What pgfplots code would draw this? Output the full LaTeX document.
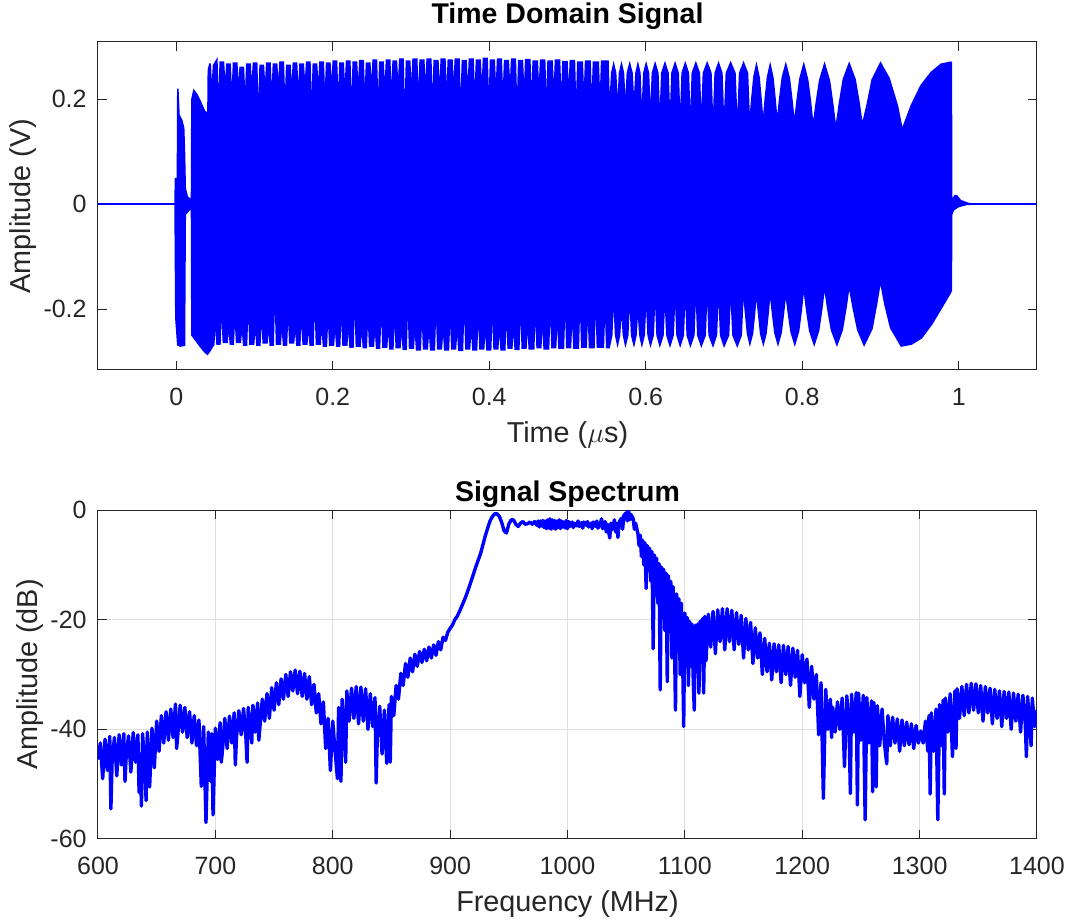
\documentclass[border=0pt]{standalone}
\usepackage{fontspec}
\setmainfont{Liberation Sans}
\usepackage{pgfplots}
\pgfplotsset{compat=1.18}
\definecolor{axc}{RGB}{38,38,38}
\definecolor{gridc}{RGB}{223,223,223}
\pgfplotsset{mystyle/.style={
 scale only axis, width=469.5pt,
 axis line style={axc, line width=0.5pt},
 every tick/.style={axc, line width=0.5pt},
 major tick length=4.7pt,
 tick align=inside,
 xtick pos=both, ytick pos=both,
 scaled ticks=false,
 tick label style={font=\fontsize{12.5}{14}\selectfont, text=axc},
 /pgf/number format/assume math mode=true,
 /pgf/number format/1000 sep={},
 xticklabel style={anchor=base, yshift=-18pt, inner sep=0pt},
 yticklabel style={anchor=east, xshift=-5.5pt, inner sep=0pt},
 label style={font=\fontsize{14.4}{16}\selectfont, text=axc},
 title style={font=\bfseries\fontsize{14.25}{16}\selectfont, at={(0.5,1)}, anchor=base},
 xlabel style={at={(axis description cs:0.5,0)}, anchor=base, yshift=-36.5pt},
}}
\begin{document}
\begin{tikzpicture}
\useasboundingbox (-49pt,-40.5pt) rectangle (487.5pt,419.5pt);
% ---------------- Top: time domain ----------------
\begin{axis}[mystyle, at={(0,234.5pt)}, anchor=south west, height=164pt,
 xmin=-0.1, xmax=1.1, ymin=-0.316, ymax=0.309,
 xtick={0,0.2,0.4,0.6,0.8,1}, ytick={-0.2,0,0.2},
 title={Time Domain Signal}, title style={yshift=3pt},
 xlabel={Time ($\mu$s)}, ylabel={Amplitude (V)},
 ylabel style={at={(axis description cs:-0.0724,0.5)}, anchor=base}]
\addplot[blue, line width=1pt] coordinates {(-0.1,0) (1.1,0)};
\addplot[fill=blue, draw=none] coordinates {
(-0.0025,0.0) (-0.002,0.05) (0.0005,0.05) (0.001,0.22) (0.003,0.22) (0.0045,0.17) (0.008,0.16) (0.0105,0.145) (0.0115,0.10) (0.0125,0.03) (0.015,0.015) (0.0185,0.01) (0.019,0.20) (0.022,0.22) (0.027,0.21) (0.032,0.195) (0.037,0.178) (0.0395,0.175) (0.040,0.255) (0.042,0.268)
(0.0443,0.268)(0.0455,0.235)(0.0467,0.265)
(0.0528,0.28)(0.054,0.215)(0.0552,0.272)
(0.0613,0.272)(0.0625,0.24)(0.0637,0.268)
(0.0698,0.268)(0.071,0.225)(0.0722,0.27)
(0.0783,0.27)(0.0795,0.235)(0.0807,0.262)
(0.0868,0.262)(0.088,0.22)(0.0892,0.268)
(0.0953,0.268)(0.0965,0.238)(0.0977,0.27)
(0.1038,0.27)(0.105,0.2)(0.1062,0.266)
(0.1123,0.266)(0.1135,0.235)(0.1147,0.27)
(0.1208,0.27)(0.122,0.225)(0.1232,0.268)
(0.1293,0.268)(0.1305,0.24)(0.1317,0.272)
(0.1378,0.272)(0.139,0.215)(0.1402,0.266)
(0.1463,0.266)(0.1475,0.235)(0.1487,0.27)
(0.1548,0.27)(0.156,0.228)(0.1572,0.268)
(0.1633,0.268)(0.1645,0.24)(0.1657,0.272)
(0.1718,0.272)(0.173,0.21)(0.1742,0.268)
(0.1803,0.268)(0.1815,0.236)(0.1827,0.272)
(0.1888,0.272)(0.19,0.225)(0.1912,0.27)
(0.1973,0.27)(0.1985,0.24)(0.1997,0.274)
(0.2058,0.274)(0.207,0.22)(0.2082,0.27)
(0.2143,0.27)(0.2155,0.235)(0.2167,0.274)
(0.2228,0.274)(0.224,0.21)(0.2252,0.272)
(0.2313,0.272)(0.2325,0.238)(0.2337,0.275)
(0.2398,0.275)(0.241,0.225)(0.2422,0.27)
(0.2483,0.27)(0.2495,0.24)(0.2507,0.276)
(0.2568,0.276)(0.258,0.215)(0.2592,0.272)
(0.2653,0.272)(0.2665,0.235)(0.2677,0.276)
(0.2738,0.276)(0.275,0.228)(0.2762,0.274)
(0.2823,0.274)(0.2835,0.24)(0.2847,0.278)
(0.2908,0.278)(0.292,0.2)(0.2932,0.274)
(0.2993,0.274)(0.3005,0.236)(0.3017,0.278)
(0.3083,0.278)(0.3095,0.225)(0.3107,0.276)
(0.3173,0.276)(0.3185,0.238)(0.3197,0.278)
(0.3263,0.278)(0.3275,0.215)(0.3287,0.275)
(0.3353,0.275)(0.3365,0.235)(0.3377,0.278)
(0.3443,0.278)(0.3455,0.228)(0.3467,0.276)
(0.3533,0.276)(0.3545,0.24)(0.3557,0.278)
(0.3623,0.278)(0.3635,0.21)(0.3647,0.275)
(0.3713,0.275)(0.3725,0.236)(0.3737,0.278)
(0.3803,0.278)(0.3815,0.225)(0.3827,0.276)
(0.3893,0.276)(0.3905,0.238)(0.3917,0.279)
(0.3983,0.279)(0.3995,0.218)(0.4007,0.276)
(0.4073,0.276)(0.4085,0.235)(0.4097,0.278)
(0.4163,0.278)(0.4175,0.225)(0.4187,0.275)
(0.4253,0.275)(0.4265,0.238)(0.4277,0.278)
(0.4343,0.278)(0.4355,0.21)(0.4367,0.275)
(0.4433,0.275)(0.4445,0.232)(0.4457,0.277)
(0.4528,0.277)(0.454,0.222)(0.4552,0.274)
(0.4623,0.274)(0.4635,0.235)(0.4647,0.276)
(0.4718,0.276)(0.473,0.215)(0.4742,0.274)
(0.4813,0.274)(0.4825,0.23)(0.4837,0.276)
(0.4908,0.276)(0.492,0.22)(0.4932,0.273)
(0.5003,0.273)(0.5015,0.232)(0.5027,0.275)
(0.5098,0.275)(0.511,0.21)(0.5122,0.272)
(0.5198,0.272)(0.521,0.225)(0.5222,0.274)
(0.5298,0.274)(0.531,0.215)(0.5322,0.272)
(0.5403,0.272)(0.5415,0.22)(0.5427,0.274)
(0.5527,0.274)(0.554,0.207)
(0.5555,0.25)(0.559,0.273)(0.5625,0.25)(0.564,0.205)
(0.5655,0.25)(0.569,0.273)(0.5725,0.25)(0.574,0.205)
(0.5755,0.25)(0.5795,0.273)(0.5835,0.25)(0.585,0.207)
(0.5865,0.25)(0.59,0.273)(0.5935,0.25)(0.595,0.192)
(0.5965,0.25)(0.6005,0.273)(0.6045,0.25)(0.606,0.192)
(0.6075,0.25)(0.612,0.273)(0.6165,0.25)(0.618,0.185)
(0.6195,0.25)(0.6245,0.273)(0.6295,0.25)(0.631,0.185)
(0.6325,0.25)(0.6375,0.273)(0.6425,0.25)(0.644,0.182)
(0.6455,0.25)(0.6505,0.273)(0.6555,0.25)(0.657,0.18)
(0.6585,0.25)(0.664,0.273)(0.6695,0.25)(0.671,0.182)
(0.6727,0.25)(0.6785,0.273)(0.6843,0.25)(0.686,0.175)
(0.6877,0.25)(0.693,0.273)(0.6983,0.25)(0.700,0.175)
(0.702,0.25)(0.7085,0.273)(0.715,0.25)(0.717,0.173)
(0.719,0.25)(0.725,0.273)(0.731,0.25)(0.733,0.173)
(0.7347,0.203)(0.7373,0.243)(0.7415,0.272)(0.7458,0.242)(0.7483,0.201)(0.750,0.170)
(0.7518,0.201)(0.7545,0.241)(0.759,0.272)(0.7635,0.241)(0.7662,0.201)(0.768,0.170)
(0.7702,0.201)(0.7735,0.241)(0.779,0.272)(0.7845,0.240)(0.7878,0.198)(0.790,0.166)
(0.7924,0.197)(0.796,0.239)(0.802,0.272)(0.808,0.236)(0.8116,0.194)(0.814,0.160)
(0.8169,0.193)(0.8213,0.236)(0.8285,0.272)(0.8358,0.235)(0.8401,0.189)(0.843,0.154)
(0.8464,0.191)(0.8515,0.238)(0.86,0.272)(0.8685,0.238)(0.8736,0.193)(0.877,0.158)
(0.882,0.19)(0.8885,0.238)(0.900,0.272)(0.912,0.24)(0.9225,0.188)(0.928,0.147)
(0.9386,0.189)(0.951,0.227)(0.964,0.252)(0.977,0.268)(0.990,0.272)(0.9915,0.271)
(0.992,0.012)(0.995,0.018)(0.998,0.017)(1.003,0.008)(1.012,0.003)(1.02,0.001)
} \closedcycle;
\addplot[fill=blue, draw=none] coordinates {
(-0.0025,0.0) (-0.0015,-0.217) (0.001,-0.269) (0.005,-0.272) (0.0115,-0.27) (0.0125,-0.02) (0.0185,-0.01) (0.019,-0.25) (0.025,-0.262) (0.030,-0.272) (0.036,-0.283) (0.040,-0.288) (0.044,-0.28) (0.048,-0.27)
(0.0488,-0.27)(0.050,-0.24)(0.0512,-0.268)
(0.0568,-0.268)(0.058,-0.22)(0.0592,-0.265)
(0.0658,-0.265)(0.067,-0.245)(0.0682,-0.268)
(0.0738,-0.268)(0.075,-0.23)(0.0762,-0.265)
(0.0828,-0.265)(0.084,-0.245)(0.0852,-0.27)
(0.0908,-0.27)(0.092,-0.215)(0.0932,-0.268)
(0.0998,-0.268)(0.101,-0.245)(0.1022,-0.27)
(0.1078,-0.27)(0.109,-0.23)(0.1102,-0.266)
(0.1168,-0.266)(0.118,-0.245)(0.1192,-0.27)
(0.1248,-0.27)(0.126,-0.2)(0.1272,-0.268)
(0.1338,-0.268)(0.135,-0.245)(0.1362,-0.27)
(0.1418,-0.27)(0.143,-0.225)(0.1442,-0.266)
(0.1508,-0.266)(0.152,-0.245)(0.1532,-0.27)
(0.1588,-0.27)(0.160,-0.23)(0.1612,-0.268)
(0.1678,-0.268)(0.169,-0.245)(0.1702,-0.27)
(0.1758,-0.27)(0.177,-0.21)(0.1782,-0.268)
(0.1848,-0.268)(0.186,-0.245)(0.1872,-0.272)
(0.1928,-0.272)(0.194,-0.23)(0.1952,-0.27)
(0.2018,-0.27)(0.203,-0.245)(0.2042,-0.272)
(0.2098,-0.272)(0.211,-0.225)(0.2122,-0.27)
(0.2188,-0.27)(0.220,-0.245)(0.2212,-0.274)
(0.2268,-0.274)(0.228,-0.21)(0.2292,-0.272)
(0.2358,-0.272)(0.237,-0.248)(0.2382,-0.275)
(0.2438,-0.275)(0.245,-0.23)(0.2462,-0.272)
(0.2528,-0.272)(0.254,-0.248)(0.2552,-0.276)
(0.2608,-0.276)(0.262,-0.22)(0.2632,-0.274)
(0.2698,-0.274)(0.271,-0.248)(0.2722,-0.277)
(0.2778,-0.277)(0.279,-0.23)(0.2802,-0.275)
(0.2868,-0.275)(0.288,-0.25)(0.2892,-0.278)
(0.2948,-0.278)(0.296,-0.215)(0.2972,-0.276)
(0.3038,-0.276)(0.305,-0.25)(0.3062,-0.279)
(0.3128,-0.279)(0.314,-0.232)(0.3152,-0.277)
(0.3218,-0.277)(0.323,-0.25)(0.3242,-0.279)
(0.3308,-0.279)(0.332,-0.22)(0.3332,-0.277)
(0.3398,-0.277)(0.341,-0.25)(0.3422,-0.279)
(0.3488,-0.279)(0.350,-0.232)(0.3512,-0.277)
(0.3578,-0.277)(0.359,-0.25)(0.3602,-0.28)
(0.3668,-0.28)(0.368,-0.215)(0.3692,-0.277)
(0.3758,-0.277)(0.377,-0.25)(0.3782,-0.279)
(0.3848,-0.279)(0.386,-0.23)(0.3872,-0.277)
(0.3938,-0.277)(0.395,-0.25)(0.3962,-0.279)
(0.4028,-0.279)(0.404,-0.225)(0.4052,-0.277)
(0.4118,-0.277)(0.413,-0.25)(0.4142,-0.279)
(0.4208,-0.279)(0.422,-0.23)(0.4232,-0.276)
(0.4298,-0.276)(0.431,-0.248)(0.4322,-0.278)
(0.4388,-0.278)(0.440,-0.22)(0.4412,-0.276)
(0.4478,-0.276)(0.449,-0.245)(0.4502,-0.277)
(0.4578,-0.277)(0.459,-0.225)(0.4602,-0.275)
(0.4668,-0.275)(0.468,-0.24)(0.4692,-0.277)
(0.4768,-0.277)(0.478,-0.22)(0.4792,-0.275)
(0.4858,-0.275)(0.487,-0.235)(0.4882,-0.276)
(0.4958,-0.276)(0.497,-0.215)(0.4982,-0.275)
(0.5048,-0.275)(0.506,-0.23)(0.5072,-0.276)
(0.5148,-0.276)(0.516,-0.21)(0.5172,-0.274)
(0.5248,-0.274)(0.526,-0.225)(0.5272,-0.275)
(0.5348,-0.275)(0.536,-0.21)(0.5372,-0.274)
(0.5468,-0.274)(0.548,-0.218)(0.5492,-0.275)
(0.554,-0.275)(0.5575,-0.25)(0.559,-0.2)
(0.5605,-0.25)(0.564,-0.274)(0.5675,-0.25)(0.569,-0.215)
(0.5705,-0.25)(0.574,-0.274)(0.578,-0.25)(0.5795,-0.2)
(0.581,-0.25)(0.585,-0.274)(0.5885,-0.25)(0.590,-0.215)
(0.5915,-0.25)(0.595,-0.274)(0.599,-0.25)(0.6005,-0.2)
(0.602,-0.25)(0.606,-0.274)(0.6105,-0.25)(0.612,-0.195)
(0.6135,-0.25)(0.618,-0.274)(0.623,-0.25)(0.6245,-0.2)
(0.626,-0.25)(0.631,-0.274)(0.636,-0.25)(0.6375,-0.195)
(0.639,-0.25)(0.644,-0.274)(0.649,-0.25)(0.6505,-0.19)
(0.652,-0.25)(0.657,-0.274)(0.6625,-0.25)(0.664,-0.187)
(0.6655,-0.25)(0.671,-0.274)(0.677,-0.25)(0.6785,-0.187)
(0.680,-0.25)(0.686,-0.274)(0.6913,-0.25)(0.693,-0.187)
(0.6947,-0.25)(0.700,-0.274)(0.7068,-0.25)(0.7085,-0.187)
(0.7105,-0.25)(0.717,-0.274)(0.723,-0.25)(0.725,-0.182)
(0.7267,-0.21)(0.7291,-0.247)(0.733,-0.272)(0.7374,-0.247)(0.7399,-0.21)(0.7415,-0.182)
(0.7433,-0.21)(0.7459,-0.247)(0.7503,-0.272)(0.7546,-0.247)(0.7573,-0.209)(0.759,-0.18)
(0.761,-0.208)(0.764,-0.245)(0.769,-0.272)(0.774,-0.245)(0.777,-0.208)(0.779,-0.18)
(0.7813,-0.208)(0.7848,-0.244)(0.7905,-0.272)(0.7963,-0.242)(0.7997,-0.203)(0.802,-0.17)
(0.8047,-0.202)(0.8086,-0.242)(0.8153,-0.272)(0.8219,-0.241)(0.8259,-0.2)(0.8285,-0.167)
(0.8317,-0.2)(0.8364,-0.24)(0.8443,-0.272)(0.8521,-0.24)(0.8569,-0.197)(0.860,-0.164)
(0.864,-0.197)(0.870,-0.24)(0.879,-0.272)(0.890,-0.238)(0.896,-0.19)(0.900,-0.154)
(0.9045,-0.19)(0.912,-0.236)(0.926,-0.272)(0.940,-0.268)(0.953,-0.256)(0.966,-0.230)(0.9785,-0.199)(0.990,-0.170)(0.9915,-0.165)
(0.992,-0.02)(0.994,-0.012)(1.0,-0.006)(1.01,-0.002)(1.02,-0.001)
} \closedcycle;
\end{axis}
% ---------------- Bottom: spectrum ----------------
\begin{axis}[mystyle, at={(0,0)}, anchor=south west, height=164.5pt,
 xmin=600, xmax=1400, ymin=-60, ymax=0,
 xtick={600,700,...,1400}, ytick={-60,-40,-20,0},
 grid=major, grid style={gridc, line width=0.5pt},
 title={Signal Spectrum}, title style={yshift=-1.5pt},
 xlabel={Frequency (MHz)}, ylabel={Amplitude (dB)},
 ylabel style={at={(axis description cs:-0.0639,0.5)}, anchor=base}]
\addplot[blue, line width=1.7pt, line join=round] coordinates {
(600,-45.5)(602,-42.5)(604,-49.0)(606,-41.8)(608,-47.5)(610,-41.3)(611,-54.5)(612,-46.0)(614,-41.5)(616,-48.5)
(618,-41.0)(620,-46.5)(622,-40.8)(623,-49.5)(624,-45.0)(626,-41.2)(628,-47.8)(630,-40.6)(632,-46.0)(634,-41.0)
(635,-51.5)(636,-44.5)(637,-54.0)(638,-40.8)(640,-47.5)(641,-53.0)(642,-40.5)(644,-50.5)(646,-39.8)(648,-47.0)
(650,-38.5)(652,-44.0)(654,-37.5)(656,-42.5)(658,-36.8)(660,-42.0)(662,-36.3)(664,-41.5)(666,-35.4)(667,-43.5)
(668,-41.0)(670,-35.6)(672,-40.5)(674,-36.0)(676,-41.5)(678,-36.8)(680,-42.5)(682,-37.5)(684,-43.0)(686,-38.3)
(688,-50.4)(690,-39.5)(692,-57.0)(694,-40.5)(696,-49.5)(697,-40.8)(698,-55.6)(700,-39.8)(702,-45.5)(704,-38.8)
(705,-46.0)(706,-44.0)(708,-38.0)(710,-43.5)(712,-37.6)(714,-42.5)(716,-37.0)(717,-46.5)(718,-41.5)(720,-36.6)
(722,-41.0)(724,-36.2)(726,-41.5)(727,-46.0)(728,-36.0)(730,-40.0)(731,-42.5)(732,-35.6)(734,-40.5)(736,-35.2)
(737,-42.0)(738,-39.5)(740,-34.5)(742,-38.5)(744,-33.5)(746,-38.0)(748,-32.4)(750,-36.5)(752,-31.5)(754,-35.5)
(756,-30.8)(758,-34.5)(760,-30.0)(762,-34.0)(764,-29.5)(766,-33.0)(768,-29.2)(770,-33.5)(772,-29.4)(774,-34.0)
(776,-29.8)(778,-34.5)(780,-30.4)(782,-35.5)(784,-31.8)(786,-37.0)(788,-33.5)(790,-39.0)(792,-35.0)(794,-43.5)
(796,-38.0)(798,-47.5)(800,-38.5)(802,-44.0)(804,-49.0)(805,-36.0)(806,-43.0)(807,-49.5)(808,-34.5)(810,-40.5)
(811,-46.0)(812,-33.0)(814,-38.5)(816,-32.5)(818,-38.0)(820,-32.2)(822,-39.0)(824,-32.3)(826,-38.5)(828,-32.6)
(830,-40.0)(832,-33.5)(834,-39.5)(836,-34.2)(837,-49.8)(838,-41.0)(840,-35.8)(842,-44.5)(844,-36.5)(846,-46.2)
(848,-35.5)(849,-46.0)(850,-34.0)(852,-37.5)(854,-32.0)(856,-34.5)(858,-29.8)(860,-32.0)(862,-28.0)(864,-30.5)
(866,-27.0)(868,-29.5)(870,-26.3)(872,-28.5)(874,-25.8)(876,-27.8)(878,-25.4)(880,-27.5)(882,-25.0)(884,-27.0)
(886,-24.6)(888,-26.5)(890,-24.0)(892,-25.5)(894,-23.2)(896,-23.8)(898,-22.3)(900,-21.6)(902,-21.0)(904,-20.0)
(906,-19.4)(908,-18.5)(910,-17.5)(912,-16.5)(914,-15.4)(916,-14.2)(918,-12.9)(920,-11.6)(922,-10.3)(924,-9.1)
(926,-7.9)(928,-6.3)(930,-4.7)(932,-3.3)(934,-2.0)(936,-1.2)(938,-0.7)(940,-0.7)(942,-1.2)(944,-2.3)
(946,-3.8)(948,-4.2)(950,-2.6)(952,-1.8)(954,-1.8)(956,-2.6)(958,-3.0)(960,-2.4)(962,-2.1)(964,-2.6)
(966,-2.5)(968,-2.2)(970,-2.6)(972,-2.1)(974,-2.8)(975,-2.0)(976,-3.1)(977,-2.0)(978,-2.9)(979,-1.9)
(980,-3.2)(981,-2.0)(982,-3.4)(983,-1.8)(984,-3.3)(985,-1.6)(986,-3.5)(987,-1.8)(988,-3.3)(989,-1.9)
(990,-3.5)(991,-2.0)(992,-3.2)(993,-1.8)(994,-3.4)(995,-2.0)(996,-3.1)(997,-2.2)(998,-3.3)(999,-1.9)
(1000,-3.4)(1001,-2.1)(1002,-3.0)(1004,-2.2)(1005,-3.2)(1006,-2.4)(1008,-2.9)(1009,-2.0)(1010,-3.0)(1012,-2.3)
(1013,-3.3)(1014,-2.2)(1016,-2.8)(1017,-2.1)(1018,-3.1)(1020,-2.4)(1021,-3.4)(1022,-2.2)(1024,-3.0)(1025,-2.0)
(1026,-3.3)(1028,-2.5)(1029,-1.6)(1030,-3.4)(1032,-2.1)(1033,-4.0)(1034,-2.6)(1036,-5.1)(1037,-2.4)(1038,-3.6)
(1040,-1.8)(1041,-4.0)(1042,-2.5)(1043,-5.0)(1044,-2.2)(1046,-1.5)(1047,-3.5)(1048,-1.0)(1050,-0.5)(1051,-2.0)
(1052,0.0)(1053,-1.8)(1054,-0.8)(1056,-1.6)(1057,-3.5)(1058,-2.4)(1060,-4.3)(1061,-6.5)(1062,-4.6)(1063,-8.5)
(1064,-5.5)(1065,-10.0)(1066,-6.0)(1067,-14.3)(1068,-6.5)(1069,-11.0)(1070,-7.0)(1071,-13.0)(1072,-7.6)(1073,-25.3)
(1074,-8.2)(1075,-14.5)(1076,-8.8)(1077,-17.0)(1078,-9.8)(1079,-32.8)(1080,-10.4)(1081,-19.0)(1082,-10.8)(1083,-22.0)
(1084,-11.5)(1085,-31.3)(1086,-12.0)(1087,-21.5)(1088,-13.0)(1089,-27.0)(1090,-14.0)(1091,-22.0)(1092,-36.5)(1093,-15.3)
(1094,-24.5)(1095,-16.2)(1096,-30.0)(1097,-17.0)(1098,-25.5)(1099,-39.5)(1100,-18.8)(1101,-28.0)(1102,-19.6)(1103,-32.0)
(1104,-20.3)(1105,-28.5)(1106,-20.8)(1107,-30.0)(1108,-36.5)(1109,-21.0)(1110,-29.5)(1111,-20.8)(1112,-33.4)(1113,-20.3)
(1114,-27.0)(1115,-19.8)(1116,-33.4)(1117,-19.4)(1118,-27.5)(1120,-19.0)(1122,-25.0)(1124,-18.5)(1126,-26.2)(1128,-18.2)
(1130,-24.0)(1132,-18.0)(1134,-25.5)(1136,-18.0)(1138,-24.0)(1140,-18.3)(1142,-25.5)(1144,-18.7)(1146,-24.5)(1148,-19.2)
(1150,-27.0)(1152,-19.8)(1154,-25.5)(1156,-20.5)(1158,-28.0)(1160,-21.5)(1162,-27.0)(1164,-22.4)(1166,-30.0)(1168,-23.4)
(1170,-29.5)(1172,-24.3)(1174,-31.0)(1176,-24.4)(1178,-29.5)(1180,-24.6)(1182,-31.5)(1184,-24.7)(1186,-30.0)(1188,-24.9)
(1190,-32.0)(1192,-25.2)(1194,-30.5)(1196,-25.6)(1198,-34.0)(1200,-26.4)(1202,-31.5)(1204,-27.2)(1206,-36.0)(1208,-28.5)
(1210,-34.5)(1212,-30.0)(1214,-41.0)(1216,-31.5)(1218,-52.6)(1220,-32.7)(1222,-40.0)(1224,-34.5)(1225,-41.5)(1226,-36.0)
(1228,-40.5)(1230,-35.0)(1232,-40.0)(1234,-34.3)(1236,-46.8)(1238,-33.9)(1240,-41.0)(1241,-51.7)(1242,-33.6)(1244,-40.5)
(1246,-33.3)(1247,-53.8)(1248,-33.4)(1250,-42.0)(1252,-33.8)(1253.6,-56.5)(1255,-34.2)(1257,-42.5)(1259,-34.8)(1260,-51.4)
(1261,-35.1)(1263,-50.5)(1264,-35.7)(1266,-43.0)(1268,-36.3)(1270,-42.5)(1272,-46.3)(1273,-37.5)(1275,-43.0)(1277,-37.8)
(1279,-42.5)(1281,-38.1)(1283,-44.0)(1285,-38.3)(1287,-43.0)(1289,-38.7)(1291,-42.8)(1293,-39.0)(1295,-43.5)(1297,-39.3)
(1299,-42.5)(1301,-40.3)(1303,-42.5)(1305,-38.5)(1307,-44.0)(1308,-37.5)(1309,-51.8)(1310,-37.0)(1312,-44.0)(1314,-36.3)
(1315.5,-56.5)(1317,-35.5)(1319,-43.0)(1320,-34.7)(1321,-51.8)(1322,-34.3)(1324,-40.5)(1326,-33.5)(1328,-45.0)(1330,-33.0)
(1331,-43.5)(1332,-32.6)(1334,-38.0)(1336,-32.2)(1338,-37.5)(1340,-31.8)(1342,-37.0)(1344,-31.6)(1346,-36.5)(1348,-31.7)
(1350,-37.0)(1352,-32.0)(1354,-38.5)(1356,-32.2)(1358,-37.0)(1360,-32.5)(1362,-39.0)(1364,-32.7)(1366,-38.0)(1368,-33.0)
(1370,-39.5)(1372,-33.1)(1374,-38.0)(1376,-33.2)(1378,-40.0)(1380,-33.4)(1382,-38.5)(1384,-33.6)(1386,-40.5)(1388,-33.8)
(1390,-39.0)(1391,-45.0)(1392,-34.0)(1394,-40.0)(1395,-43.0)(1396,-34.3)(1398,-39.5)(1400,-36.5)
};
\end{axis}
\end{tikzpicture}
\end{document}
